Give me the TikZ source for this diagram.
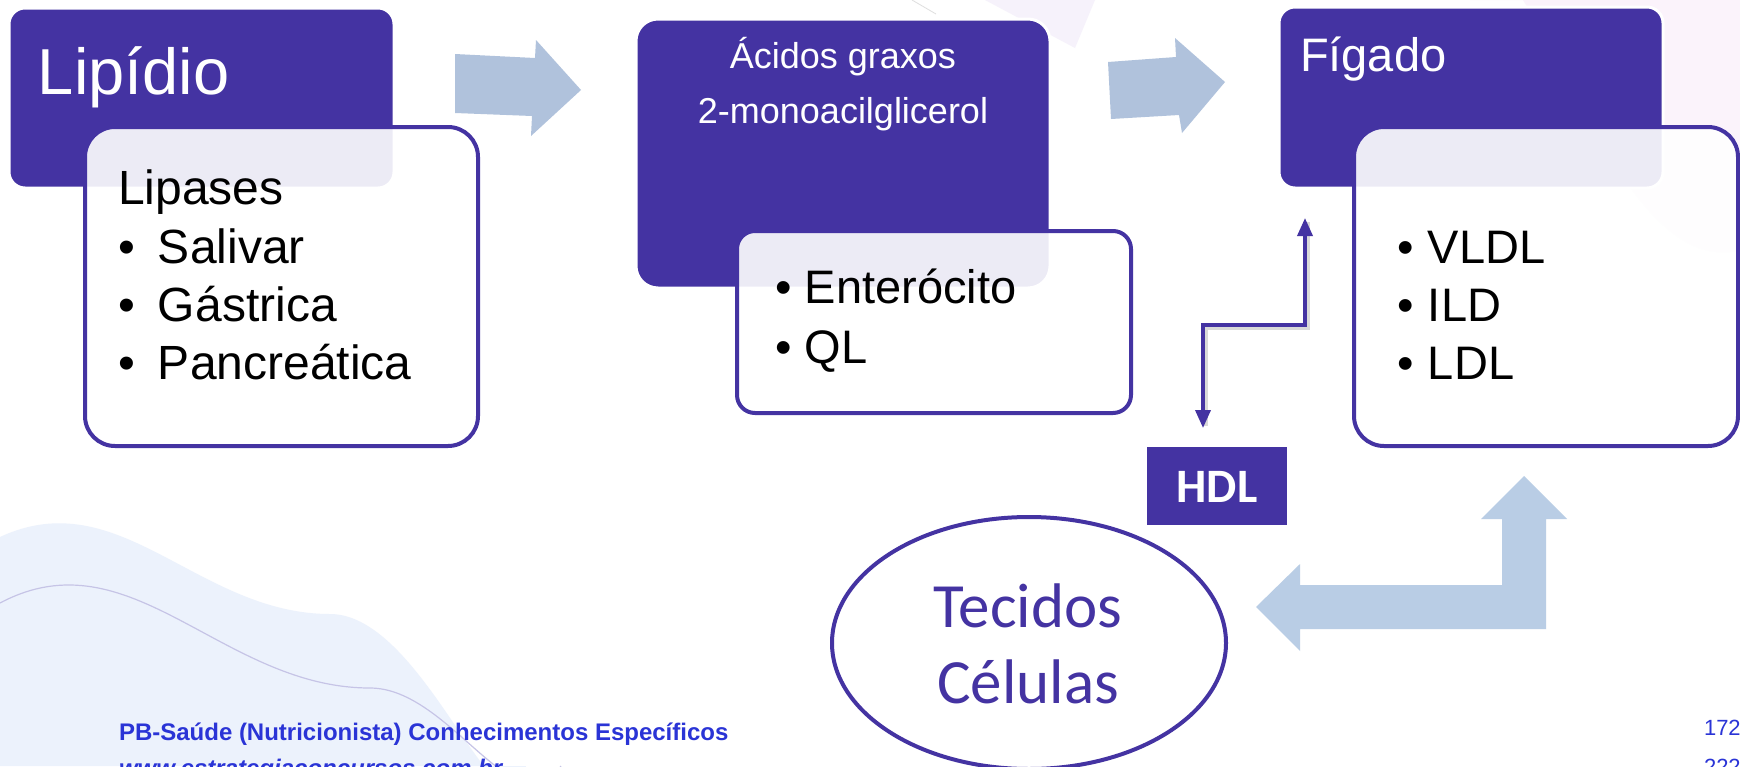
\documentclass[tikz,border=0pt]{standalone}
\usepackage{fontspec}
\setmainfont{Liberation Sans}
\newfontfamily\calib{Carlito}
\usetikzlibrary{arrows.meta,shapes.geometric}
\definecolor{pur}{RGB}{68,51,162}
\definecolor{arrowblue}{RGB}{176,194,220}
\definecolor{bentblue}{RGB}{185,205,229}
\definecolor{blobc}{RGB}{236,242,252}
\definecolor{linec}{RGB}{198,196,230}
\definecolor{pinkc}{RGB}{251,243,251}
\definecolor{lavc}{RGB}{246,242,251}
\definecolor{footc}{RGB}{42,52,214}
\begin{document}
\begin{tikzpicture}[x=0.5pt,y=-0.5pt,
  darkbox/.style={fill=pur, draw=white, line width=1.5pt, rounded corners=8pt, anchor=north west, inner sep=0pt, outer sep=0pt},
  lightbox/.style={fill=white, fill opacity=0.9, draw=pur, line width=2pt, anchor=north west, inner sep=0pt, outer sep=0pt},
  txt/.style={anchor=base west, inner sep=0pt, outer sep=0pt},
  bigtxt/.style={txt, font=\fontsize{24}{28}\selectfont},
  bluearrow/.style={fill=arrowblue},
  conn/.style={draw=pur, line width=1.8pt, {Triangle[width=7.5pt,length=9pt]}-{Triangle[width=7.5pt,length=9pt]}}
]
\useasboundingbox (0,0) rectangle (1740,766);
\clip (0,0) rectangle (1740,766);
\fill[white] (0,0) rectangle (1740,766);

% background decorations
\fill[blobc] (0,537) to[out=25,in=180] (330,614) to[out=0,in=-105] (526,766) -- (0,766) -- cycle;
\draw[linec, line width=0.6pt] (0,603) to[out=28,in=180] (370,688) to[out=0,in=-125] (561,766);
\fill[pinkc] (1470,0) to[out=70,in=195] (1740,250) -- (1740,0) -- cycle;
\fill[lavc] (985,0) -- (1095,0) -- (1075,48) -- cycle;
\draw[gray!25, line width=0.4pt] (912,0) -- (936,14);

% boxes
\node[darkbox, minimum width=192.5pt, minimum height=90pt] (lipbox) at (9,8) {};
\node[lightbox, rounded corners=15pt, minimum width=196.5pt, minimum height=159.5pt] (lipasebox) at (85,127) {};
\node[darkbox, rounded corners=11pt, minimum width=207pt, minimum height=134.5pt] (acbox) at (636,19) {};
\node[lightbox, rounded corners=9pt, minimum width=197pt, minimum height=91pt] (entbox) at (737,231) {};
\node[darkbox, minimum width=192pt, minimum height=90.5pt] (figbox) at (1279,7) {};
\node[lightbox, rounded corners=15pt, minimum width=192pt, minimum height=159.5pt] (ldlbox) at (1354,127) {};

% block arrows
\fill[bluearrow] (455,54) -- (535,58) -- (536,40) -- (581,90) -- (531,136) -- (532,116) -- (455,113) -- cycle;
\fill[bluearrow] (1108,62) -- (1176,57) -- (1175,38) -- (1225,82) -- (1182,133) -- (1179,115) -- (1111,119) -- cycle;
\fill[bentblue] (1524,476) -- (1567,519) -- (1546,519) -- (1546,629) -- (1300,629) -- (1300,651)
  -- (1256,607) -- (1300,564) -- (1300,585) -- (1502,585) -- (1502,519) -- (1481,519) -- cycle;

% HDL and ellipse
\node[fill=pur, anchor=north west, inner sep=0pt, minimum width=70pt, minimum height=39pt] (hdlbox) at (1147,447) {};
\node[ellipse, draw=pur, fill=white, line width=2pt, inner sep=0pt, minimum width=197pt, minimum height=126pt] (tec) at (1029,643) {};

% elbow connector
\coordinate (ctop) at (1305,218);
\coordinate (cbot) at (1203,428);
\draw[black, opacity=0.15, line width=1.8pt] (1206,426) -- (1206,328) -- (1308,328) -- (1308,222);
\draw[conn] (cbot) -- ++(0,-103) -| (ctop);

% texts
\node[txt, text=white, font=\fontsize{32.5}{38}\selectfont] (tlip) at (38,94) {Lipídio};
\node[bigtxt] (tlipases) at (118,204) {Lipases};
\node[bigtxt] (tsal) at (118,263) {\makebox[20pt][l]{•}Salivar};
\node[bigtxt] (tgas) at (118,321) {\makebox[20pt][l]{•}Gástrica};
\node[bigtxt] (tpan) at (118,379) {\makebox[20pt][l]{•}Pancreática};

\node[anchor=base, inner sep=0pt, text=white, font=\fontsize{18}{22}\selectfont] (tac1) at (843,68) {Ácidos graxos};
\node[anchor=base, inner sep=0pt, text=white, font=\fontsize{18}{22}\selectfont] (tac2) at (843,123) {2-monoacilglicerol};
\node[txt, font=\fontsize{23.5}{28}\selectfont] (tent) at (775,303) {\makebox[15pt][l]{•}Enterócito};
\node[txt, font=\fontsize{23.5}{28}\selectfont] (tql) at (775,363) {\makebox[15pt][l]{•}QL};

\node[txt, text=white, font=\fontsize{23.5}{28}\selectfont] (tfig) at (1300,71) {Fígado};
\node[txt, font=\fontsize{23.5}{28}\selectfont] (tvldl) at (1397,263) {\makebox[15.5pt][l]{•}VLDL};
\node[txt, font=\fontsize{23.5}{28}\selectfont] (tild) at (1397,321) {\makebox[15.5pt][l]{•}ILD};
\node[txt, font=\fontsize{23.5}{28}\selectfont] (tldl) at (1397,379) {\makebox[15.5pt][l]{•}LDL};

\node[anchor=base, inner sep=0pt, text=white, font=\calib\bfseries\fontsize{24}{28}\selectfont] (thdl) at (1217,502) {HDL};
\node[anchor=base, inner sep=0pt, text=pur, font=\calib\fontsize{31.5}{36}\selectfont] (ttec) at (1028,627) {Tecidos};
\node[anchor=base, inner sep=0pt, text=pur, font=\calib\fontsize{31.5}{36}\selectfont] (tcel) at (1028,703) {Células};

% footer
\node[txt, text=footc, font=\bfseries\fontsize{12}{14}\selectfont] (tfoot1) at (119,740) {PB-Saúde (Nutricionista) Conhecimentos Específicos};
\node[txt, text=footc, font=\bfseries\itshape\fontsize{12}{14}\selectfont] (tfoot2) at (119,776) {www.estrategiaconcursos.com.br};
\node[txt, text=footc, font=\fontsize{11}{13}\selectfont] (tpage1) at (1704,735) {172};
\node[txt, text=footc, font=\fontsize{11}{13}\selectfont] (tpage2) at (1704,774) {222};
\end{tikzpicture}
\end{document}
